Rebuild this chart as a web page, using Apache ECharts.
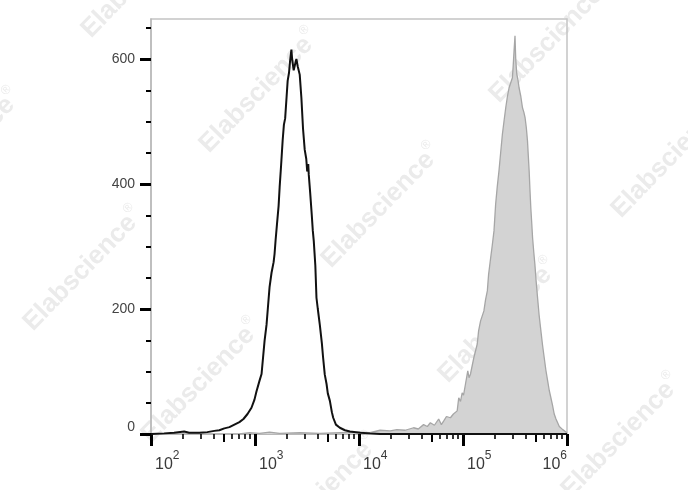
<!DOCTYPE html>
<html><head><meta charset="utf-8">
<script src="https://cdn.jsdelivr.net/npm/echarts@6/dist/echarts.min.js"></script>
<style>html,body{margin:0;padding:0;background:#fff}#c{width:688px;height:490px}</style>
</head><body><div id="c"></div>
<script>
// ---- tick values ----
const xTickValues = [1e2, 1e3, 1e4, 1e5, 1e6];
const xMidTicks = [5e2, 5e3, 5e4, 5e5];
const xMinorTicks = [2e2,3e2,4e2,6e2,7e2,8e2,9e2, 2e3,3e3,4e3,6e3,7e3,8e3,9e3, 2e4,3e4,4e4,6e4,7e4,8e4,9e4, 2e5,3e5,4e5,6e5,7e5,8e5,9e5];
const yTickValues = [0, 200, 400, 600];
const yMinorTicks = [50, 100, 150, 250, 300, 350, 450, 500, 550, 650];

// ---- control (black line): log10 of fluorescence, counts ----
const controlExp = [2.000,2.126,2.222,2.319,2.367,2.464,2.541,2.609,2.657,2.705,2.754,2.802,2.850,2.889,2.928,2.966,2.995,3.014,3.043,3.063,3.092,3.111,3.124,3.140,3.159,3.179,3.188,3.198,3.211,3.227,3.237,3.251,3.266,3.278,3.290,3.304,3.314,3.327,3.338,3.350,3.357,3.372,3.386,3.398,3.411,3.430,3.446,3.462,3.478,3.493,3.502,3.512,3.517,3.531,3.546,3.556,3.565,3.580,3.591,3.604,3.623,3.643,3.655,3.671,3.688,3.700,3.720,3.739,3.752,3.778,3.816,3.865,3.913,4.010,4.106,4.203,4.396,5.000,6.000];
const controlCount = [0,1,2,4,2,2,3,5,6,9,11,15,19,24,32,42,55,68,85,96,149,175,202,235,258,275,288,310,335,365,395,430,470,495,505,540,565,578,598,615,600,582,592,600,588,575,538,488,455,440,420,432,415,385,350,325,309,270,218,200,175,145,122,95,80,65,53,35,26,15,10,6,4,2,1,0,0,0,0];

// ---- stained (grey filled) ----
const stainedExp = [2.850,2.947,3.043,3.140,3.237,3.430,3.623,3.816,4.010,4.106,4.203,4.300,4.364,4.444,4.525,4.570,4.621,4.657,4.686,4.725,4.766,4.792,4.815,4.841,4.879,4.908,4.944,4.959,4.976,4.992,5.005,5.024,5.046,5.058,5.072,5.104,5.137,5.150,5.169,5.201,5.217,5.234,5.246,5.266,5.280,5.298,5.314,5.329,5.346,5.362,5.379,5.394,5.411,5.427,5.443,5.459,5.475,5.483,5.491,5.500,5.507,5.517,5.527,5.539,5.556,5.572,5.585,5.597,5.609,5.620,5.628,5.636,5.644,5.652,5.660,5.669,5.681,5.691,5.703,5.717,5.732,5.749,5.765,5.781,5.797,5.814,5.829,5.845,5.862,5.877,5.894,5.910,5.926,5.942,5.959,5.974,6.000];
const stainedCount = [0,2,1,3,1,2,1,2,3,2,6,5,7,6,10,8,15,12,18,14,24,15,21,28,26,32,37,58,52,66,62,80,101,90,96,122,144,165,181,197,215,229,255,282,300,325,368,395,421,450,480,500,522,540,554,562,570,590,613,637,600,576,568,554,540,522,515,506,490,469,445,421,390,362,340,314,290,272,245,218,190,165,142,122,102,85,70,58,45,32,24,18,12,9,7,5,2];

const toPairs = (ex, cnt) => ex.map((e, i) => [Math.pow(10, e), cnt[i]]);

const chart = echarts.init(document.getElementById('c'), null, {renderer: 'canvas'});

const FONT = '"Liberation Sans", Arial, sans-serif';
const wm = [[258,90],[380,205],[497,320],[620,435],[82,268],[200,380],[318,495],[140,-25],[-40,150],[548,40],[670,155]];
const graphics = wm.map(p => ({
  type: 'text', x: p[0], y: p[1], rotation: 0.8, z: -10, silent: true,
  style: {
    text: '{a|Elabscience}{r|®}', align: 'center', verticalAlign: 'middle',
    rich: {
      a: {fontSize: 26, fontWeight: 'bold', fontFamily: FONT, fill: '#ebebeb', color: '#ebebeb', lineHeight: 30, verticalAlign: 'bottom'},
      r: {fontSize: 13, fontFamily: FONT, fill: '#ebebeb', color: '#ebebeb', lineHeight: 14, verticalAlign: 'top'}
    }
  }
}));

const logMin = 1e2, logMax = 1e6;
function xAxisBase(extra) {
  return Object.assign({
    type: 'log', logBase: 10, min: logMin, max: logMax, position: 'bottom', gridIndex: 0,
    splitLine: {show: false}, minorTick: {show: false}, minorSplitLine: {show: false}
  }, extra);
}

chart.setOption({
  animation: false,
  backgroundColor: '#ffffff',
  graphic: graphics,
  grid: {left: 151, right: 121, top: 19, bottom: 56, show: true, borderColor: '#c4c4c4', borderWidth: 1.5, backgroundColor: 'transparent'},
  xAxis: [
    xAxisBase({
      axisLine: {show: true, lineStyle: {color: '#b0b0b0', width: 1.5}},
      axisTick: {show: true, customValues: xTickValues, length: 12, lineStyle: {color: '#000', width: 3}},
      axisLabel: {
        show: true, customValues: xTickValues, margin: 16, align: 'left', alignMaxLabel: 'right',
        padding: [0, 0, 0, 4],
        formatter: v => '{b|10}{s|' + Math.round(Math.log10(v)) + '}',
        rich: {
          b: {fontSize: 16, lineHeight: 23, verticalAlign: 'bottom', color: '#3a3a3a', fontFamily: FONT},
          s: {fontSize: 12, lineHeight: 13, verticalAlign: 'top', color: '#3a3a3a', fontFamily: FONT}
        }
      }
    }),
    xAxisBase({
      axisLine: {show: false},
      axisTick: {show: true, customValues: xMinorTicks, length: 5, lineStyle: {color: '#000', width: 1.6}},
      axisLabel: {show: false}
    }),
    xAxisBase({
      axisLine: {show: false},
      axisTick: {show: true, customValues: xMidTicks, length: 8, lineStyle: {color: '#000', width: 2}},
      axisLabel: {show: false}
    })
  ],
  yAxis: [
    {
      type: 'value', min: 0, max: 664, position: 'left', gridIndex: 0,
      splitLine: {show: false},
      axisLine: {show: true, lineStyle: {color: '#b8b8b8', width: 1.5}},
      axisTick: {show: true, customValues: yTickValues, length: 11, lineStyle: {color: '#000', width: 3}},
      axisLabel: {show: true, customValues: yTickValues, margin: 16, fontSize: 14, color: '#444',
        fontFamily: FONT, verticalAlignMinLabel: 'bottom'}
    },
    {
      type: 'value', min: 0, max: 664, position: 'left', gridIndex: 0,
      splitLine: {show: false},
      axisLine: {show: false},
      axisTick: {show: true, customValues: yMinorTicks, length: 5, lineStyle: {color: '#000', width: 2}},
      axisLabel: {show: false}
    }
  ],
  series: [
    {
      name: 'stained', type: 'line', xAxisIndex: 0, yAxisIndex: 0, data: toPairs(stainedExp, stainedCount),
      showSymbol: false, symbol: 'none', z: 2,
      lineStyle: {color: '#a6a6a6', width: 1.3},
      areaStyle: {color: '#d3d3d3', opacity: 1}
    },
    {
      name: 'control', type: 'line', xAxisIndex: 0, yAxisIndex: 0, data: toPairs(controlExp, controlCount),
      showSymbol: false, symbol: 'none', z: 3,
      lineStyle: {color: '#111', width: 2}
    }
  ]
});
</script>
</body></html>
